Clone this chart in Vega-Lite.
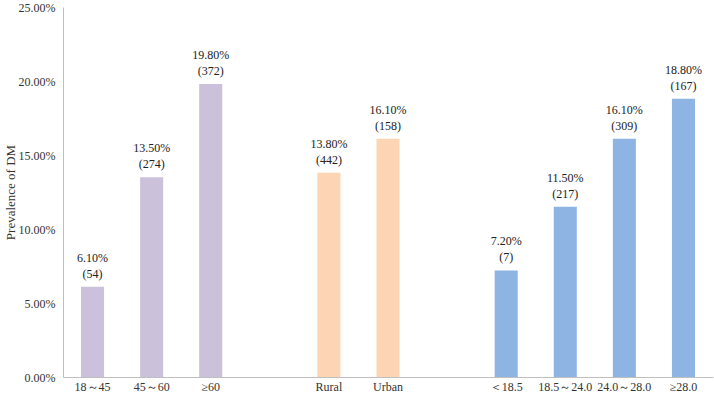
{
  "$schema": "https://vega.github.io/schema/vega-lite/v6.json",
  "autosize": {"type": "none"},
  "width": 650,
  "height": 370,
  "padding": {"left": 63, "top": 7, "right": 1, "bottom": 24},
  "background": "white",
  "config": {
    "view": {"stroke": null},
    "font": "Liberation Serif",
    "axis": {"labelFont": "Liberation Serif", "titleFont": "Liberation Serif", "labelColor": "#333333", "titleColor": "#333333", "domainColor": "#BFBFBF", "grid": false, "ticks": false}
  },
  "data": {
    "values": [
      {"category": "18～45", "group": "Age", "prevalence": 0.061, "n": 54},
      {"category": "45～60", "group": "Age", "prevalence": 0.135, "n": 274},
      {"category": "≥60", "group": "Age", "prevalence": 0.198, "n": 372},
      {"category": "Rural", "group": "Residence", "prevalence": 0.138, "n": 442},
      {"category": "Urban", "group": "Residence", "prevalence": 0.161, "n": 158},
      {"category": "＜18.5", "group": "BMI", "prevalence": 0.072, "n": 7},
      {"category": "18.5～24.0", "group": "BMI", "prevalence": 0.115, "n": 217},
      {"category": "24.0～28.0", "group": "BMI", "prevalence": 0.161, "n": 309},
      {"category": "≥28.0", "group": "BMI", "prevalence": 0.188, "n": 167}
    ]
  },
  "transform": [{"calculate": "'(' + datum.n + ')'", "as": "nLabel"}],
  "encoding": {
    "x": {
      "field": "category",
      "type": "nominal",
      "sort": null,
      "scale": {
        "domain": ["18～45", "45～60", "≥60", " ", "Rural", "Urban", "  ", "＜18.5", "18.5～24.0", "24.0～28.0", "≥28.0"],
        "paddingInner": 0.61,
        "paddingOuter": 0.305
      },
      "axis": {"title": null, "labelAngle": 0, "labelFontSize": 12, "labelPadding": 4, "domainWidth": 1}
    },
    "y": {
      "field": "prevalence",
      "type": "quantitative",
      "scale": {"domain": [0, 0.25], "nice": false},
      "axis": {"title": "Prevalence of DM", "format": ".2%", "values": [0, 0.05, 0.1, 0.15, 0.2, 0.25], "labelFontSize": 12, "labelPadding": 8, "titleFontSize": 13, "titleFontWeight": "normal", "titleX": -46, "domainWidth": 1}
    }
  },
  "layer": [
    {
      "mark": {"type": "bar"},
      "encoding": {
        "color": {
          "field": "group",
          "type": "nominal",
          "scale": {"domain": ["Age", "Residence", "BMI"], "range": ["#CCC1DA", "#FCD5B5", "#8EB4E3"]},
          "legend": null
        }
      }
    },
    {
      "mark": {"type": "text", "baseline": "middle", "dy": -29, "fontSize": 12, "color": "#222222", "font": "Liberation Serif"},
      "encoding": {"text": {"field": "prevalence", "type": "quantitative", "format": ".2%"}}
    },
    {
      "mark": {"type": "text", "baseline": "middle", "dy": -13, "fontSize": 12, "color": "#222222", "font": "Liberation Serif"},
      "encoding": {"text": {"field": "nLabel", "type": "nominal"}}
    }
  ]
}
